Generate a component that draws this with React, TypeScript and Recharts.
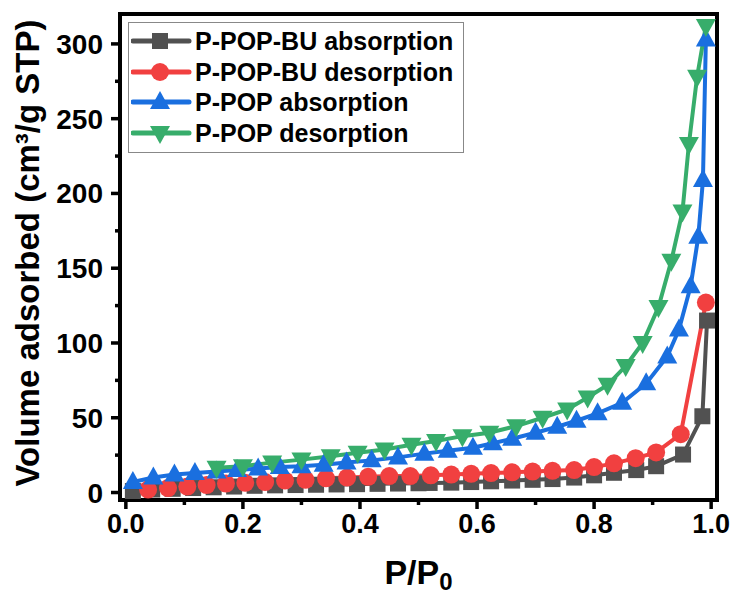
import { Label, Legend, Line, LineChart, ReferenceArea, XAxis, YAxis } from "recharts";

// P-POP-BU absorption
const buAbsX = [0.012, 0.045, 0.08, 0.115, 0.15, 0.185, 0.22, 0.255, 0.29, 0.325, 0.36, 0.395, 0.43, 0.465, 0.5, 0.519, 0.556, 0.59, 0.624, 0.66, 0.695, 0.729, 0.766, 0.8, 0.834, 0.872, 0.906, 0.952, 0.985, 0.993];
const buAbsY = [1, 2, 2.5, 3, 3.5, 4, 4.5, 4.8, 5, 5.2, 5.4, 5.6, 5.8, 6, 6.2, 6.4, 6.6, 7, 7.5, 8, 8.5, 9, 10, 11.5, 13.2, 15, 17.6, 25.4, 51, 115];

// P-POP-BU desorption
const buDesX = [0.038, 0.072, 0.105, 0.138, 0.171, 0.204, 0.238, 0.272, 0.307, 0.342, 0.378, 0.414, 0.45, 0.486, 0.521, 0.556, 0.59, 0.624, 0.66, 0.695, 0.729, 0.766, 0.8, 0.834, 0.871, 0.906, 0.948, 0.991];
const buDesY = [2, 3, 4, 5, 6, 6.5, 7, 8, 8.5, 9.5, 10, 10.5, 11, 11, 11.5, 12, 12.5, 13, 13.5, 14, 14.5, 15, 17, 19.5, 23, 26.8, 39, 127];

// P-POP absorption
const popAbsX = [0.012, 0.047, 0.083, 0.118, 0.155, 0.19, 0.226, 0.263, 0.3, 0.338, 0.377, 0.42, 0.465, 0.51, 0.55, 0.593, 0.627, 0.66, 0.7, 0.737, 0.77, 0.806, 0.848, 0.889, 0.925, 0.945, 0.965, 0.978, 0.986, 0.991];
const popAbsY = [7, 10, 12, 13, 14, 15, 16, 17, 17.5, 18.5, 20, 21.5, 23.5, 26, 28, 30, 33, 36, 40, 44, 48, 53, 60, 73, 91, 109, 138, 171, 209, 303];

// P-POP desorption
const popDesX = [0.155, 0.2, 0.25, 0.3, 0.35, 0.396, 0.442, 0.488, 0.53, 0.575, 0.621, 0.667, 0.712, 0.754, 0.789, 0.823, 0.854, 0.883, 0.91, 0.932, 0.951, 0.962, 0.976, 0.991];
const popDesY = [16.5, 17.6, 20, 22, 24.3, 26.6, 28.8, 32, 34.4, 37.7, 40, 44.4, 50, 55.6, 63.6, 72, 84.6, 100, 124, 155, 188, 233, 278, 312];

const xTicks = [0, 0.1, 0.2, 0.3, 0.4, 0.5, 0.6, 0.7, 0.8, 0.9, 1.0];
const yTicks = [0, 25, 50, 75, 100, 125, 150, 175, 200, 225, 250, 275, 300];

const FONT = "'Liberation Sans', Arial, sans-serif";

const toPoints = (xs: number[], ys: number[]) => xs.map((x, i) => ({ x, y: ys[i] }));

type Shape = "square" | "circle" | "up" | "down";

const series: { name: string; color: string; shape: Shape; data: { x: number; y: number }[] }[] = [
  { name: "P-POP-BU absorption", color: "#515151", shape: "square", data: toPoints(buAbsX, buAbsY) },
  { name: "P-POP-BU desorption", color: "#F14040", shape: "circle", data: toPoints(buDesX, buDesY) },
  { name: "P-POP absorption", color: "#1A6FDF", shape: "up", data: toPoints(popAbsX, popAbsY) },
  { name: "P-POP desorption", color: "#37AD6B", shape: "down", data: toPoints(popDesX, popDesY) },
];

function Marker({ cx, cy, shape, color }: { cx: number; cy: number; shape: Shape; color: string }) {
  if (shape === "square") return <rect x={cx - 8} y={cy - 8} width={16} height={16} fill={color} />;
  if (shape === "circle") return <circle cx={cx} cy={cy} r={9} fill={color} />;
  if (shape === "up")
    return <polygon points={`${cx},${cy - 11} ${cx - 10},${cy + 7} ${cx + 10},${cy + 7}`} fill={color} />;
  return <polygon points={`${cx},${cy + 11} ${cx - 10},${cy - 7} ${cx + 10},${cy - 7}`} fill={color} />;
}

const makeDot = (shape: Shape, color: string) => (props: any) => {
  const { cx, cy, index } = props;
  if (cx == null || cy == null) return <g key={index} />;
  return <Marker key={index} cx={cx} cy={cy} shape={shape} color={color} />;
};

const XTick = (props: any) => {
  const { x, y, payload } = props;
  const major = Math.round(payload.value * 10) % 2 === 0;
  return (
    <g>
      <line x1={x} x2={x} y1={y} y2={y + (major ? 9 : 5)} stroke="#000" strokeWidth={3.5} />
      {major && (
        <text x={x} y={y + 33} textAnchor="middle" fontSize={27} fontWeight="bold" fontFamily={FONT} fill="#000">
          {payload.value.toFixed(1)}
        </text>
      )}
    </g>
  );
};

const YTick = (props: any) => {
  const { x, y, payload } = props;
  const major = payload.value % 50 === 0;
  return (
    <g>
      <line x1={x} x2={x - (major ? 9 : 5)} y1={y} y2={y} stroke="#000" strokeWidth={3.5} />
      {major && (
        <text x={x - 17} y={y + 10} textAnchor="end" fontSize={28} fontWeight="bold" fontFamily={FONT} fill="#000">
          {payload.value}
        </text>
      )}
    </g>
  );
};

function LegendBox() {
  return (
    <div
      style={{
        border: "1px solid #888",
        background: "#fff",
        padding: "3px 10px 4px 2px",
        fontFamily: FONT,
        fontWeight: "bold",
        fontSize: 25,
        lineHeight: "30.5px",
      }}
    >
      {series.map((s) => (
        <div key={s.name} style={{ display: "flex", alignItems: "center", whiteSpace: "nowrap" }}>
          <svg width={62} height={30} style={{ marginRight: 2 }}>
            <line x1={2} x2={58} y1={15} y2={15} stroke={s.color} strokeWidth={5} strokeLinecap="round" />
            <Marker cx={29} cy={15} shape={s.shape} color={s.color} />
          </svg>
          <span>{s.name}</span>
        </div>
      ))}
    </div>
  );
}

export default function App() {
  return (
    <div style={{ position: "absolute", left: 0, top: 0, background: "#fff" }}>
      <LineChart width={735} height={597} margin={{ top: 14, right: 18, bottom: 0, left: 0 }}>
        <XAxis
          type="number"
          dataKey="x"
          domain={[-0.01, 1.01]}
          allowDataOverflow
          ticks={xTicks}
          interval={0}
          tickSize={0}
          tickMargin={0}
          tickLine={false}
          axisLine={false}
          tick={<XTick />}
          height={97}
        >
          <Label
            content={(p: any) => {
              const vb = p.viewBox;
              return (
                <text
                  x={vb.x + vb.width / 2}
                  y={vb.y + 84}
                  textAnchor="middle"
                  fontSize={34}
                  fontWeight="bold"
                  fontFamily={FONT}
                  fill="#000"
                >
                  P/P
                  <tspan fontSize={24} dy={6}>
                    0
                  </tspan>
                </text>
              );
            }}
          />
        </XAxis>
        <YAxis
          type="number"
          dataKey="y"
          domain={[-5, 320]}
          allowDataOverflow
          ticks={yTicks}
          interval={0}
          tickSize={0}
          tickMargin={0}
          tickLine={false}
          axisLine={false}
          tick={<YTick />}
          width={120}
        >
          <Label
            content={(p: any) => {
              const vb = p.viewBox;
              const cy = vb.y + vb.height / 2;
              return (
                <text
                  transform={`translate(39 ${cy - 4}) rotate(-90)`}
                  textAnchor="middle"
                  fontSize={33}
                  fontWeight="bold"
                  fontFamily={FONT}
                  fill="#000"
                >
                  Volume adsorbed (cm³/g STP)
                </text>
              );
            }}
          />
        </YAxis>
        <ReferenceArea x1={-0.01} x2={1.01} y1={-5} y2={320} fill="none" stroke="#000" strokeWidth={4} />
        {series.map((s) => (
          <Line
            key={s.name}
            data={s.data}
            dataKey="y"
            name={s.name}
            stroke={s.color}
            strokeWidth={4}
            dot={makeDot(s.shape, s.color)}
            activeDot={false}
            isAnimationActive={false}
            type="linear"
          />
        ))}
        <Legend
          layout="vertical"
          align="center"
          verticalAlign="middle"
          wrapperStyle={{ top: 22, left: 128, width: "auto" }}
          content={() => <LegendBox />}
        />
      </LineChart>
    </div>
  );
}
